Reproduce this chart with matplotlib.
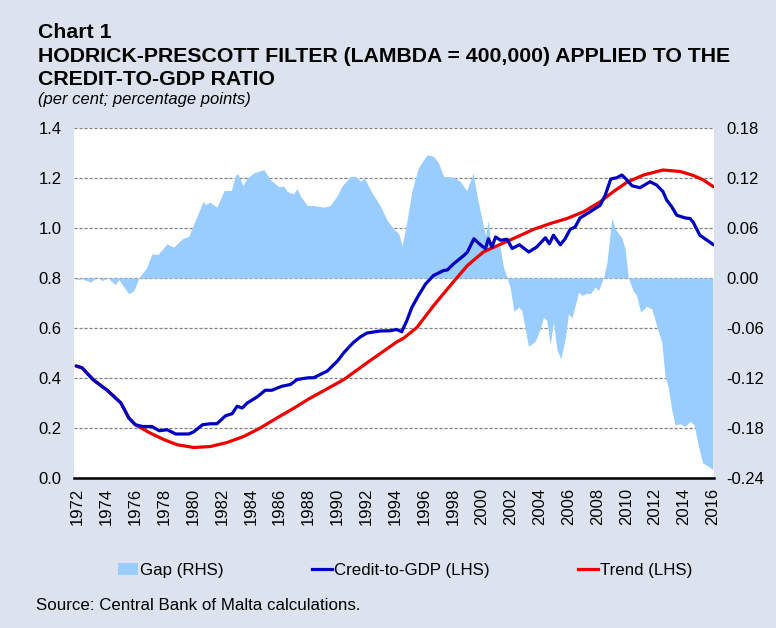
import matplotlib
matplotlib.use("Agg")
import matplotlib.pyplot as plt
from matplotlib.patches import Patch
from matplotlib.lines import Line2D

plt.rcParams['font.family'] = ['Liberation Sans', 'DejaVu Sans']

# gap between credit-to-GDP and trend (RHS, percentage points)
gap_x = [1971.9, 1972.3, 1972.9, 1973.35, 1973.7, 1974.1, 1974.6, 1974.85, 1975.55, 1975.9,
         1976.25, 1976.8, 1977.15, 1977.55, 1978.2, 1978.65, 1979.25, 1979.7, 1980.15, 1980.7,
         1980.85, 1981.15, 1981.65, 1982.15, 1982.65, 1982.95, 1983.1, 1983.45, 1983.75, 1984.2,
         1984.9, 1985.35, 1985.9, 1986.3, 1986.5, 1986.95, 1987.2, 1987.45, 1987.9, 1988.35,
         1989.05, 1989.5, 1989.95, 1990.3, 1990.9, 1991.25, 1991.6, 1991.85, 1992.4, 1992.95,
         1993.45, 1993.9, 1994.25, 1994.47, 1994.8, 1995.15, 1995.6, 1996.2, 1996.65, 1997.0,
         1997.35, 1998.05, 1998.5, 1998.95, 1999.4, 1999.65, 2000.0, 2000.25, 2000.45, 2000.6,
         2001.05, 2001.25, 2001.5, 2001.75, 2001.97, 2002.22, 2002.55, 2002.77, 2003.23, 2003.7,
         2004.04, 2004.27, 2004.5, 2004.73, 2004.96, 2005.2, 2005.47, 2005.77, 2006.0, 2006.24,
         2006.7, 2006.95, 2007.27, 2007.5, 2007.85, 2008.08, 2008.42, 2008.66, 2009.0, 2009.23,
         2009.7, 2009.92, 2010.15, 2010.5, 2010.7, 2011.0, 2011.4, 2011.77, 2012.1, 2012.46,
         2012.69, 2012.9, 2013.15, 2013.38, 2013.73, 2014.08, 2014.42, 2014.7, 2015.0, 2015.3,
         2015.7, 2016.0]
gap_y = [-0.002, -0.001, -0.005, 0.001, -0.003, 0.0, -0.008, -0.002, -0.019, -0.015,
         0.0, 0.013, 0.029, 0.028, 0.041, 0.037, 0.047, 0.050, 0.069, 0.092,
         0.088, 0.091, 0.085, 0.105, 0.105, 0.124, 0.125, 0.111, 0.120, 0.126,
         0.130, 0.118, 0.110, 0.110, 0.104, 0.101, 0.107, 0.098, 0.087, 0.087,
         0.085, 0.087, 0.098, 0.110, 0.122, 0.122, 0.116, 0.120, 0.102, 0.087,
         0.069, 0.059, 0.053, 0.038, 0.067, 0.104, 0.132, 0.148, 0.146, 0.138,
         0.122, 0.121, 0.116, 0.105, 0.126, 0.100, 0.071, 0.051, 0.069, 0.043,
         0.037, 0.038, 0.013, 0.0, -0.012, -0.040, -0.035, -0.039, -0.082, -0.076,
         -0.061, -0.047, -0.051, -0.080, -0.053, -0.086, -0.097, -0.073, -0.043, -0.048,
         -0.017, -0.021, -0.018, -0.019, -0.011, -0.015, 0.0, 0.018, 0.072, 0.059,
         0.048, 0.035, 0.0, -0.016, -0.020, -0.041, -0.034, -0.037, -0.057, -0.077,
         -0.118, -0.130, -0.158, -0.176, -0.175, -0.178, -0.172, -0.176, -0.202, -0.222,
         -0.226, -0.230]

# credit-to-GDP ratio (LHS)
credit_x = [1971.9, 1972.3, 1973.1, 1974.05, 1975.0, 1975.55, 1976.0, 1976.5, 1977.15, 1977.65,
            1978.2, 1978.8, 1979.7, 1980.05, 1980.65, 1981.2, 1981.65, 1982.25, 1982.7, 1983.05,
            1983.4, 1983.75, 1984.45, 1985.0, 1985.45, 1986.15, 1986.75, 1987.2, 1988.0, 1988.35,
            1989.3, 1990.0, 1990.45, 1991.1, 1991.6, 1992.05, 1992.95, 1993.65, 1994.1, 1994.45,
            1994.8, 1995.15, 1995.6, 1996.1, 1996.65, 1997.35, 1997.6, 1998.05, 1998.75, 1999.0,
            1999.45, 1999.9, 2000.25, 2000.45, 2000.7, 2000.95, 2001.3, 2001.75, 2002.1, 2002.6,
            2003.25, 2003.8, 2004.4, 2004.68, 2004.96, 2005.43, 2005.77, 2006.12, 2006.46, 2006.8,
            2007.5, 2008.2, 2008.55, 2008.93, 2009.35, 2009.7, 2010.05, 2010.4, 2010.95, 2011.65,
            2012.1, 2012.55, 2012.8, 2013.15, 2013.5, 2014.1, 2014.42, 2014.65, 2015.1, 2015.6,
            2016.04]
credit_y = [0.448, 0.441, 0.392, 0.351, 0.300, 0.240, 0.213, 0.206, 0.206, 0.189,
            0.193, 0.176, 0.176, 0.185, 0.213, 0.217, 0.217, 0.249, 0.257, 0.287,
            0.280, 0.300, 0.325, 0.351, 0.351, 0.367, 0.374, 0.394, 0.401, 0.401,
            0.428, 0.468, 0.502, 0.542, 0.565, 0.580, 0.588, 0.589, 0.594, 0.585,
            0.629, 0.682, 0.729, 0.776, 0.810, 0.830, 0.832, 0.857, 0.890, 0.904,
            0.957, 0.933, 0.917, 0.957, 0.924, 0.964, 0.951, 0.955, 0.918, 0.933,
            0.904, 0.924, 0.961, 0.937, 0.971, 0.933, 0.957, 0.995, 1.004, 1.040,
            1.065, 1.091, 1.132, 1.196, 1.201, 1.212, 1.192, 1.169, 1.161, 1.185,
            1.172, 1.145, 1.112, 1.085, 1.051, 1.040, 1.038, 1.022, 0.971, 0.951,
            0.933]

# HP trend (LHS)
trend_x = [1971.9, 1972.3, 1973.1, 1974.05, 1975.0, 1975.55, 1976.0, 1976.95, 1978.0, 1978.9,
           1980.05, 1981.2, 1982.35, 1983.5, 1984.65, 1985.8, 1987.0, 1988.0, 1990.45, 1992.05,
           1994.1, 1994.6, 1995.5, 1996.65, 1997.8, 1999.0, 2000.1, 2001.3, 2002.5, 2003.6,
           2004.75, 2005.9, 2007.05, 2008.2, 2009.1, 2010.05, 2011.2, 2012.55, 2013.75, 2014.65,
           2015.35, 2016.04]
trend_y = [0.448, 0.441, 0.392, 0.351, 0.300, 0.240, 0.213, 0.182, 0.153, 0.133,
           0.122, 0.126, 0.142, 0.166, 0.200, 0.240, 0.280, 0.316, 0.394, 0.461,
           0.544, 0.560, 0.602, 0.689, 0.769, 0.850, 0.904, 0.935, 0.966, 0.995,
           1.018, 1.038, 1.065, 1.105, 1.145, 1.183, 1.212, 1.232, 1.226, 1.210,
           1.192, 1.165]

year_ticks = list(range(1972, 2017, 2))
left_ticks = [0.0, 0.2, 0.4, 0.6, 0.8, 1.0, 1.2, 1.4]
right_ticks = [-0.24, -0.18, -0.12, -0.06, 0.0, 0.06, 0.12, 0.18]

bg = '#dce3ef'
gap_col = '#99ccff'
credit_col = '#0000c0'
trend_col = '#ee0000'

fig = plt.figure(figsize=(7.76, 6.28), dpi=100)
fig.patch.set_facecolor(bg)

# gap axis (right scale) sits at the bottom, carries the grid
ax = fig.add_axes([74/776, 1-478/628, 640/776, 350/628])
ax.set_facecolor('white')
ax.fill_between(gap_x, gap_y, 0, color=gap_col, linewidth=0, zorder=2)
ax.set_ylim(-0.24, 0.18)
ax.set_yticks(right_ticks)
ax.set_yticklabels(['%.2f' % v for v in right_ticks])
ax.set_axisbelow(True)
ax.grid(axis='y', color='#808080', linestyle=(0, (2.5, 1.5)), linewidth=0.9)
ax.set_xlim(1971.75, 2016.08)
ax.set_xticks(year_ticks)
ax.set_xticklabels([str(y) for y in year_ticks], rotation=90)

# lines on the left scale
axl = ax.twinx()
axl.plot(trend_x, trend_y, color=trend_col, linewidth=2.3, solid_capstyle='round')
axl.plot(credit_x, credit_y, color=credit_col, linewidth=2.3, solid_capstyle='round')
axl.set_ylim(0, 1.4)
axl.set_yticks(left_ticks)
axl.set_yticklabels(['%.1f' % v for v in left_ticks])

# twinx moves the first axis ticks to the left; swap them back
ax.yaxis.tick_right()
axl.yaxis.tick_left()

for a in (ax, axl):
    for s in a.spines.values():
        s.set_visible(False)
    a.tick_params(length=0, labelsize=12, colors='black')
ax.spines['bottom'].set_visible(True)
ax.spines['bottom'].set_linewidth(1.8)
ax.spines['bottom'].set_color('black')
ax.tick_params(axis='x', pad=7)
ax.tick_params(axis='y', pad=9)
axl.tick_params(axis='y', pad=9)

fig.text(38/776, 1-38/628, 'Chart 1', fontsize=15.3, fontweight='bold', va='baseline')
fig.text(38/776, 1-62/628, 'HODRICK-PRESCOTT FILTER (LAMBDA = 400,000) APPLIED TO THE',
         fontsize=15.3, fontweight='bold', va='baseline')
fig.text(38/776, 1-85/628, 'CREDIT-TO-GDP RATIO', fontsize=15.3, fontweight='bold', va='baseline')
fig.text(38/776, 1-104/628, '(per cent; percentage points)', fontsize=12, style='italic',
         va='baseline')

handles = [Patch(facecolor=gap_col, edgecolor='none'),
           Line2D([], [], color=credit_col, linewidth=2.3),
           Line2D([], [], color=trend_col, linewidth=2.3)]
fig.legend(handles, ['Gap (RHS)', 'Credit-to-GDP (LHS)', 'Trend (LHS)'],
           loc='center', bbox_to_anchor=(405/776, 1-570/628), ncol=3, frameon=False,
           fontsize=12.2, handlelength=1.2, handletextpad=0.1, columnspacing=5.2)

fig.text(36/776, 1-605/628, 'Source: Central Bank of Malta calculations.', fontsize=12.2,
         va='center')

fig.savefig('out.png', dpi=100, facecolor=bg)
